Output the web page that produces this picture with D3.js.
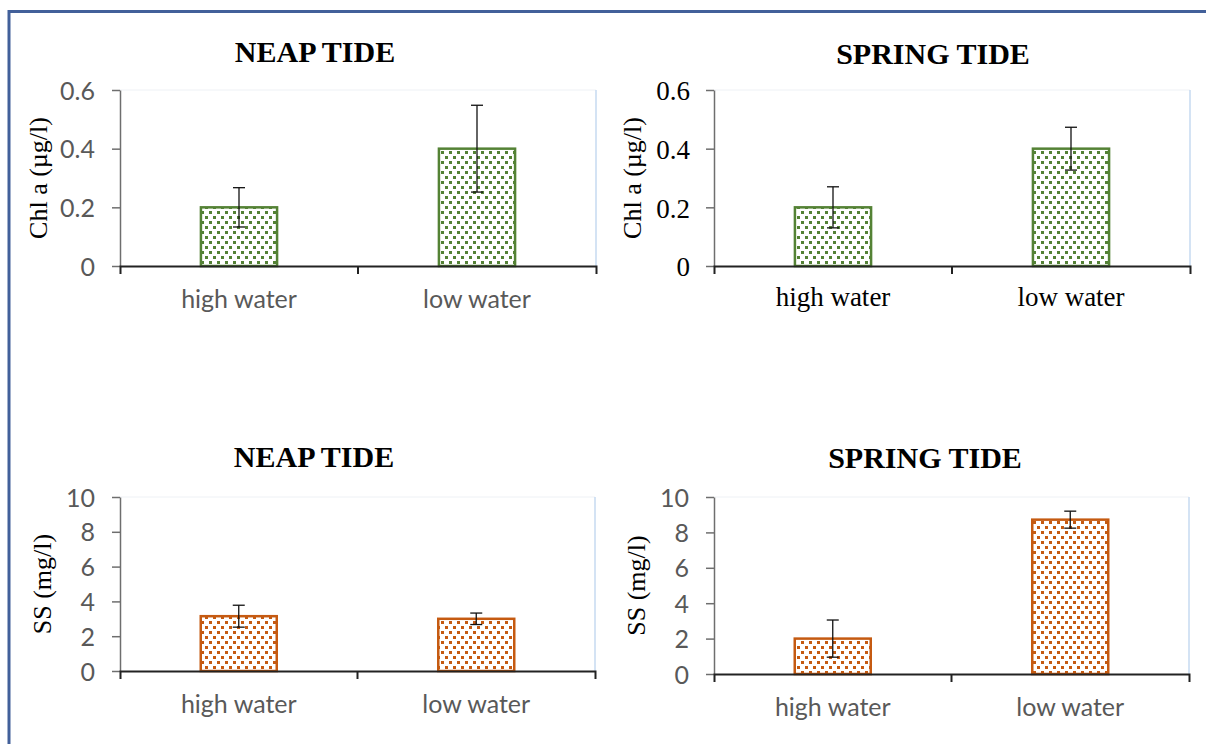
<!DOCTYPE html>
<html>
<head>
<meta charset="utf-8">
<script src="https://cdn.jsdelivr.net/npm/d3@7"></script>
<style>
  body { margin: 0; background: #fff; }
  svg { display: block; }
</style>
</head>
<body>
<svg id="chart" width="1206" height="744"></svg>
<script>
// --- Data --------------------------------------
const categories = ["high water", "low water"];

const chlNeapValues = [0.2, 0.4];
const chlNeapErrors = [0.067, 0.148];
const chlSpringValues = [0.2, 0.4];
const chlSpringErrors = [0.07, 0.073];

const ssNeapValues = [3.15, 3.0];
const ssNeapErrors = [0.63, 0.33];
const ssSpringValues = [2.0, 8.72];
const ssSpringErrors = [1.05, 0.48];

const chlTicks = [0, 0.2, 0.4, 0.6];
const ssTicks = [0, 2, 4, 6, 8, 10];

const SERIF = "'Liberation Serif', 'Times New Roman', serif";
const SANS = "Lato, Carlito, Calibri, sans-serif";

const colors = {green: "#548235", orange: "#c55a11"};

// one entry per panel; layout lives here, values come from the arrays above
const panels = [
  {title: "NEAP TIDE", titleX: 315, titleY: 62, yLabel: "Chl a (µg/l)", yLabelX: 38,
   x0: 120, x1: 596, yTop: 90, yBottom: 266, ticks: chlTicks,
   values: chlNeapValues, errors: chlNeapErrors, color: "green", serif: false, labelY: 308},
  {title: "SPRING TIDE", titleX: 933, titleY: 64, yLabel: "Chl a (µg/l)", yLabelX: 632,
   x0: 714, x1: 1190, yTop: 90, yBottom: 266, ticks: chlTicks,
   values: chlSpringValues, errors: chlSpringErrors, color: "green", serif: true, labelY: 306},
  {title: "NEAP TIDE", titleX: 314, titleY: 467, yLabel: "SS (mg/l)", yLabelX: 42,
   x0: 120, x1: 595, yTop: 497, yBottom: 671, ticks: ssTicks,
   values: ssNeapValues, errors: ssNeapErrors, color: "orange", serif: false, labelY: 713},
  {title: "SPRING TIDE", titleX: 925, titleY: 468, yLabel: "SS (mg/l)", yLabelX: 636,
   x0: 714, x1: 1189, yTop: 497, yBottom: 674, ticks: ssTicks,
   values: ssSpringValues, errors: ssSpringErrors, color: "orange", serif: false, labelY: 716}
];

const svg = d3.select("#chart");

svg.append("rect").attr("width", 1206).attr("height", 744).attr("fill", "#fff");

// dotted fills, like the Excel pattern
const defs = svg.append("defs");
Object.entries(colors).forEach(([name, c]) => {
  const p = defs.append("pattern")
    .attr("id", "dots-" + name)
    .attr("patternUnits", "userSpaceOnUse")
    .attr("width", 8).attr("height", 10);
  p.append("rect").attr("width", 8).attr("height", 10).attr("fill", "#fff");
  p.append("rect").attr("x", 1).attr("y", 1).attr("width", 3).attr("height", 3).attr("fill", c);
  p.append("rect").attr("x", 5).attr("y", 6).attr("width", 3).attr("height", 3).attr("fill", c);
});

// outer frame (only top and left are in view)
svg.append("path")
  .attr("d", "M9,744V11.5H1206")
  .attr("fill", "none")
  .attr("stroke", "#42609a")
  .attr("stroke-width", 3);

panels.forEach(p => {
  const g = svg.append("g");
  const tickFont = p.serif ? SERIF : SANS;
  const tickSize = p.serif ? 27 : 25;
  const tickColor = p.serif ? "#000" : "#595959";

  const x = d3.scaleBand()
    .domain(categories)
    .range([p.x0, p.x1]);

  const y = d3.scaleLinear()
    .domain([0, d3.max(p.ticks)])
    .range([p.yBottom, p.yTop]);

  const barW = x.bandwidth() * 0.32;

  // faint plot-area border
  g.append("line")
    .attr("x1", p.x0).attr("x2", p.x1)
    .attr("y1", p.yTop).attr("y2", p.yTop)
    .attr("stroke", "#eef1f5");
  g.append("line")
    .attr("x1", p.x1).attr("x2", p.x1)
    .attr("y1", p.yTop).attr("y2", p.yBottom)
    .attr("stroke", "#c6daf0").attr("stroke-width", 1.5);

  // title
  g.append("text")
    .attr("x", p.titleX).attr("y", p.titleY)
    .attr("text-anchor", "middle")
    .style("font-family", SERIF)
    .style("font-weight", "bold")
    .style("font-size", "30px")
    .text(p.title);

  // y label
  g.append("text")
    .attr("transform", "translate(" + p.yLabelX + "," + ((p.yTop + p.yBottom) / 2) + ")rotate(-90)")
    .attr("text-anchor", "middle")
    .attr("dominant-baseline", "central")
    .style("font-family", SERIF)
    .style("font-size", "26px")
    .text(p.yLabel);

  // bars
  const rows = categories.map((c, i) => ({cat: c, v: p.values[i], e: p.errors[i]}));

  g.selectAll(".bar")
    .data(rows)
    .enter()
    .append("rect")
    .attr("class", "bar")
    .attr("x", d => x(d.cat) + (x.bandwidth() - barW) / 2)
    .attr("y", d => y(d.v))
    .attr("width", barW)
    .attr("height", d => y(0) - y(d.v))
    .attr("fill", "url(#dots-" + p.color + ")")
    .attr("stroke", colors[p.color])
    .attr("stroke-width", 2.5);

  // y axis
  const yAxis = g.append("g")
    .attr("transform", "translate(" + p.x0 + ",0)")
    .call(d3.axisLeft(y)
      .tickValues(p.ticks)
      .tickSize(8)
      .tickSizeOuter(0)
      .tickPadding(p.serif ? 16 : 17)
      .tickFormat(d3.format("~g")));
  yAxis.select(".domain").attr("stroke", "#6e6e6e").attr("stroke-width", 1.5);
  yAxis.selectAll(".tick line").attr("stroke", "#6e6e6e").attr("stroke-width", 1.5);
  yAxis.selectAll(".tick text")
    .attr("dy", "0.36em")
    .style("font-family", tickFont)
    .style("font-size", tickSize + "px")
    .attr("fill", tickColor);

  // x axis: line, ticks at band edges, labels at band centres
  const xAxis = g.append("g")
    .attr("transform", "translate(0," + p.yBottom + ")")
    .call(d3.axisBottom(x).tickSizeInner(0).tickSizeOuter(8).tickFormat(""));
  xAxis.select(".domain").attr("stroke", "#222").attr("stroke-width", 2);
  xAxis.selectAll(".tick").remove();
  xAxis.selectAll(".edge")
    .data(categories.slice(1))
    .enter()
    .append("line")
    .attr("x1", d => x(d)).attr("x2", d => x(d))
    .attr("y1", 0).attr("y2", 8)
    .attr("stroke", "#222").attr("stroke-width", 2);

  g.selectAll(".xlabel")
    .data(categories)
    .enter()
    .append("text")
    .attr("x", d => x(d) + x.bandwidth() / 2)
    .attr("y", p.labelY)
    .attr("text-anchor", "middle")
    .style("font-family", tickFont)
    .style("font-size", tickSize + "px")
    .attr("fill", tickColor)
    .text(d => d);

  // error bars
  const cap = 6;
  const eb = g.selectAll(".err")
    .data(rows)
    .enter()
    .append("g")
    .attr("transform", d => "translate(" + (x(d.cat) + x.bandwidth() / 2) + ",0)")
    .attr("stroke", "#111")
    .attr("stroke-width", 1.3);
  eb.append("line")
    .attr("y1", d => y(d.v + d.e)).attr("y2", d => y(d.v - d.e));
  eb.append("line")
    .attr("x1", -cap).attr("x2", cap)
    .attr("y1", d => y(d.v + d.e)).attr("y2", d => y(d.v + d.e));
  eb.append("line")
    .attr("x1", -cap).attr("x2", cap)
    .attr("y1", d => y(d.v - d.e)).attr("y2", d => y(d.v - d.e));
});
</script>
</body>
</html>
